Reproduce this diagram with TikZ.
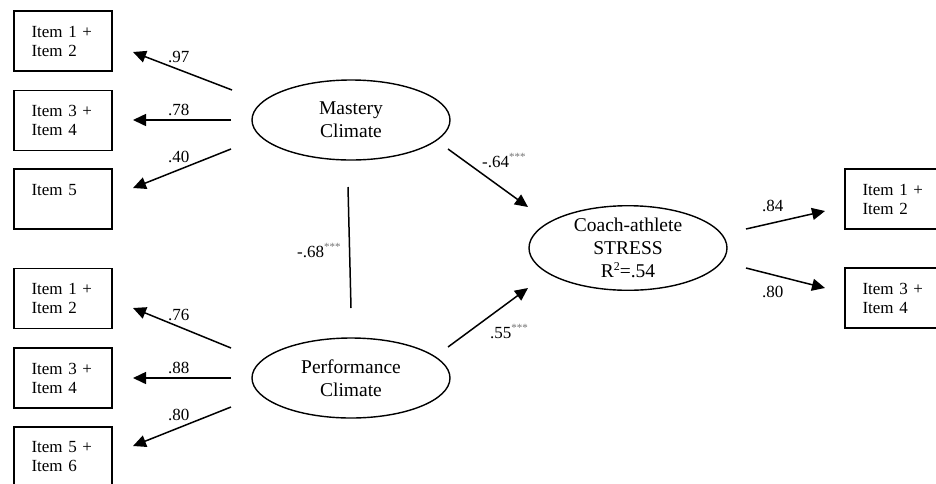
\documentclass[tikz,border=0pt]{standalone}
\usepackage{fontspec}
\setmainfont{Liberation Serif}
\usetikzlibrary{shapes.geometric,arrows.meta}
\newcommand{\sigstars}{\raisebox{7pt}{\fontsize{11}{11}\selectfont\color{black!55}***}}
\begin{document}
\begin{tikzpicture}[x=1pt,y=-1pt,
 itembox/.style={draw, line width=1.3pt, minimum width=98pt, minimum height=60pt, inner xsep=17.5pt, inner ysep=0pt, text width=63pt, align=left, font=\fontsize{17}{19}\selectfont},
 latent/.style={ellipse, draw, line width=1.4pt, minimum width=198pt, minimum height=80pt, inner sep=0pt, align=center, font=\fontsize{19.5}{23}\selectfont},
 arr/.style={line width=1.5pt, -{Triangle[length=13pt,width=12pt]}},
 corr/.style={line width=1.5pt},
 lbl/.style={anchor=base west, inner sep=0pt, font=\fontsize{17}{19}\selectfont}]
\useasboundingbox (0,0) rectangle (936,483);

% item boxes
\node[itembox] (m1) at (63,41) {Item 1 +\\Item 2};
\node[itembox] (m2) at (63,120.5) {Item 3 +\\Item 4};
\node[itembox] (m3) at (63,199) {Item 5\\\mbox{}};
\node[itembox] (p1) at (63,298.5) {Item 1 +\\Item 2};
\node[itembox] (p2) at (63,378) {Item 3 +\\Item 4};
\node[itembox] (p3) at (63,457) {Item 5 +\\Item 6};
\node[itembox] (s1) at (894,199) {Item 1 +\\Item 2};
\node[itembox] (s2) at (894,298) {Item 3 +\\Item 4};

% latent variables
\node[latent] (mastery) at (351,120) {Mastery\\Climate};
\node[latent] (perf) at (351,378) {Performance\\Climate};
\node[latent, minimum height=79pt] (stress) at (628,248) {Coach-athlete\\STRESS\\R\raisebox{7pt}{\fontsize{12}{12}\selectfont 2}=.54};

% connector end points
\coordinate (mt1) at (232,90);  \coordinate (mh1) at (133,52);
\coordinate (mt2) at (231,120); \coordinate (mh2) at (133,120);
\coordinate (mt3) at (231,149); \coordinate (mh3) at (133,188);
\coordinate (pt1) at (231,348); \coordinate (ph1) at (133,308);
\coordinate (pt2) at (231,378); \coordinate (ph2) at (133,378);
\coordinate (pt3) at (231,407); \coordinate (ph3) at (133,446);
\coordinate (ct1) at (348,187); \coordinate (ch1) at (351,308);
\coordinate (ms) at (448,149);  \coordinate (sm) at (528,207);
\coordinate (ps) at (448,347);  \coordinate (sp) at (528,288);
\coordinate (st1) at (746,229); \coordinate (sh1) at (825,211);
\coordinate (st2) at (746,268); \coordinate (sh2) at (825,288);

\draw[arr] (mt1) -- (mh1);
\draw[arr] (mt2) -- (mh2);
\draw[arr] (mt3) -- (mh3);
\draw[arr] (pt1) -- (ph1);
\draw[arr] (pt2) -- (ph2);
\draw[arr] (pt3) -- (ph3);
\draw[corr] (ct1) -- (ch1);
\draw[arr] (ms) -- (sm);
\draw[arr] (ps) -- (sp);
\draw[arr] (st1) -- (sh1);
\draw[arr] (st2) -- (sh2);

% labels
\node[lbl] (l1) at (168,62) {.97};
\node[lbl] (l2) at (168,115) {.78};
\node[lbl] (l3) at (168,162) {.40};
\node[lbl] (l4) at (168,320) {.76};
\node[lbl] (l5) at (168,373) {.88};
\node[lbl] (l6) at (168,420) {.80};
\node[lbl] (l7) at (297,257) {-.68\sigstars};
\node[lbl] (l8) at (482,167) {-.64\sigstars};
\node[lbl] (l9) at (490,338) {.55\sigstars};
\node[lbl] (l10) at (762,211) {.84};
\node[lbl] (l11) at (762,297) {.80};
\end{tikzpicture}
\end{document}
